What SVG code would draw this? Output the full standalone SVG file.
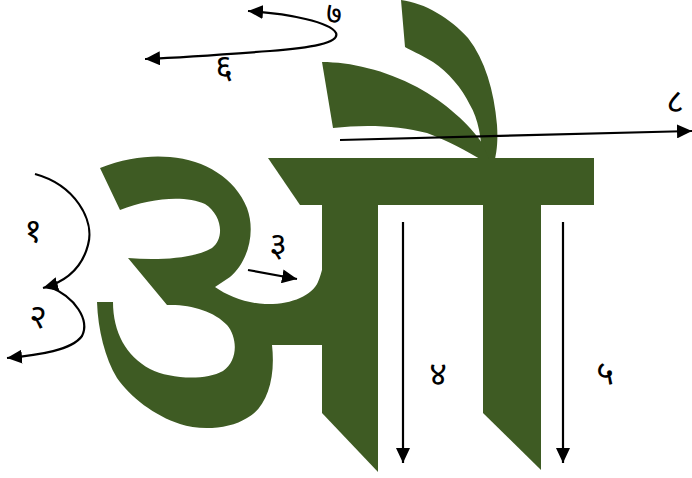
<svg xmlns="http://www.w3.org/2000/svg" width="692" height="478" viewBox="0 0 692 478">
<style>
.g{fill:#3e5b23;stroke:none}
.c{fill:none;stroke:#000;stroke-width:2.2}
.t{font-family:"Noto Sans","DejaVu Sans","Liberation Sans",sans-serif;font-size:34px;fill:#000;text-anchor:middle}
</style>
<defs>
<marker id="ah" markerUnits="userSpaceOnUse" markerWidth="16" markerHeight="14" viewBox="0 0 16 14" refX="15" refY="7" orient="auto-start-reverse">
<path d="M0,0 L15,7 L0,14 Z" fill="#000"/>
</marker>
</defs>
<rect width="692" height="478" fill="#fff"/>
<g id="glyph-u">
<path class="g" d="M100,168 C125,158 150,155 170,157 C205,160 235,178 247,208 C256,232 248,262 230,277 L215,287 C228,296 245,303 265,304 C290,305 312,296 318,282 C323,270 324,262 324,250 L324,345 L272,345 C276,380 266,408 247,418 C230,429 200,431 180,424 C155,416 130,397 117,378 C105,358 98,330 97,302 L113,302 C113,332 126,356 150,369 C170,379 205,381 223,371 C238,361 238,338 227,325 C214,311 190,304 167,305 L128,258 C160,261 195,258 212,248 C225,238 222,215 205,204 C185,195 150,198 120,210 Z"/>
</g>
<g id="glyph-bar"><path class="g" d="M268,158 L594,158 L594,205 L300,205 Z"/></g>
<g id="glyph-stem1"><path class="g" d="M322,200 L378,200 L378,472 L322,413 Z"/></g>
<g id="glyph-stem2"><path class="g" d="M483,200 L541,200 L541,470 L483,413 Z"/></g>
<g id="glyph-matra-back"><path class="g" d="M401,0 C425,3 450,18 468,38 C485,60 494,90 497,125 C498,140 497,150 495,159 L482,159 C482,140 478,118 470,105 C462,88 448,72 433,62 C420,54 410,50 405,47 Z"/></g>
<g id="glyph-matra-front"><path class="g" d="M322,62 C350,62 385,70 417,87 C445,102 470,125 482,143 L489,159 L480,159 C465,150 450,142 427,133 C400,126 367,124 333,128 Z"/></g>
<g id="connectors">
<path class="c" d="M35,174 C75,185 95,220 88,245 C82,268 65,282 43,288" marker-end="url(#ah)"/>
<path class="c" d="M50,287 C75,297 90,320 82,336 C72,350 40,355 7,358" marker-end="url(#ah)"/>
<path class="c" d="M248,270 L297,279" marker-end="url(#ah)"/>
<path class="c" d="M403,222 L403,463" marker-end="url(#ah)"/>
<path class="c" d="M563,222 L563,463" marker-end="url(#ah)"/>
<path class="c" d="M248,11 C290,14 330,22 336,33 C340,43 310,48 270,51 C230,54 190,57 145,59" marker-start="url(#ah)" marker-end="url(#ah)"/>
<path class="c" d="M340,140 L692,131" marker-end="url(#ah)"/>
</g>
<g id="labels">
<text class="t" x="33" y="242">१</text>
<text class="t" x="38" y="328">२</text>
<text class="t" x="278" y="256">३</text>
<text class="t" x="438" y="385">४</text>
<text class="t" x="605" y="385">५</text>
<text class="t" x="224" y="78">६</text>
<text class="t" x="334" y="24" style="font-size:30px">७</text>
<text class="t" x="675" y="113">८</text>
</g>
</svg>
